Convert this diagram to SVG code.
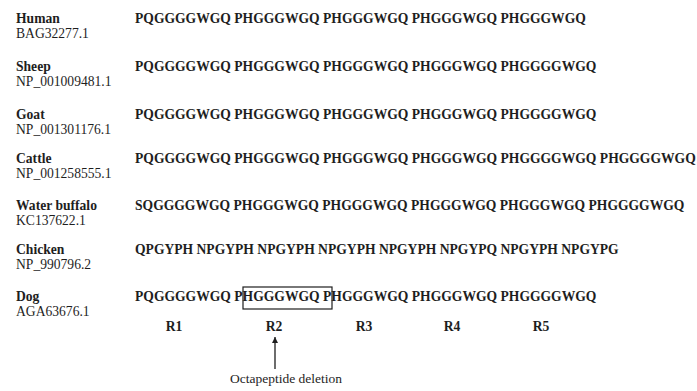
<svg xmlns="http://www.w3.org/2000/svg" width="697" height="391" viewBox="0 0 697 391">
  <style>
    text { font-family: "Liberation Serif", "Times New Roman", serif; fill: #1e1e1e; font-size: 13.6px; }
    .sp { font-weight: bold; }
    .seq { font-weight: bold; }
    .acc { font-weight: normal; }
    .rep { font-weight: bold; text-anchor: middle; }
    .note { font-size: 13.5px; }
  </style>
  <defs>
    <marker id="head" viewBox="0 0 10 10" refX="10" refY="5" markerWidth="6" markerHeight="6" orient="auto" markerUnits="userSpaceOnUse">
      <path d="M0,0 L10,5 L0,10 z" fill="#1e1e1e"/>
    </marker>
  </defs>
  <rect width="697" height="391" fill="#ffffff"/>

  <g id="human">
    <text class="sp" x="16" y="23">Human</text>
    <text class="acc" x="16" y="38">BAG32277.1</text>
    <text class="seq" x="135" y="23">PQGGGGWGQ PHGGGWGQ PHGGGWGQ PHGGGWGQ PHGGGWGQ</text>
  </g>
  <g id="sheep">
    <text class="sp" x="16" y="71">Sheep</text>
    <text class="acc" x="16" y="86">NP_001009481.1</text>
    <text class="seq" x="135" y="71">PQGGGGWGQ PHGGGWGQ PHGGGWGQ PHGGGWGQ PHGGGGWGQ</text>
  </g>
  <g id="goat">
    <text class="sp" x="16" y="119">Goat</text>
    <text class="acc" x="16" y="134">NP_001301176.1</text>
    <text class="seq" x="135" y="119">PQGGGGWGQ PHGGGWGQ PHGGGWGQ PHGGGWGQ PHGGGGWGQ</text>
  </g>
  <g id="cattle">
    <text class="sp" x="16" y="163">Cattle</text>
    <text class="acc" x="16" y="178">NP_001258555.1</text>
    <text class="seq" x="135" y="163">PQGGGGWGQ PHGGGWGQ PHGGGWGQ PHGGGWGQ PHGGGGWGQ PHGGGGWGQ</text>
  </g>
  <g id="water-buffalo">
    <text class="sp" x="16" y="210">Water buffalo</text>
    <text class="acc" x="16" y="225">KC137622.1</text>
    <text class="seq" x="135" y="210">SQGGGGWGQ PHGGGWGQ PHGGGWGQ PHGGGWGQ PHGGGWGQ PHGGGGWGQ</text>
  </g>
  <g id="chicken">
    <text class="sp" x="16" y="254">Chicken</text>
    <text class="acc" x="16" y="269">NP_990796.2</text>
    <text class="seq" x="135" y="254">QPGYPH NPGYPH NPGYPH NPGYPH NPGYPH NPGYPQ NPGYPH NPGYPG</text>
  </g>
  <g id="dog">
    <text class="sp" x="16" y="301">Dog</text>
    <text class="acc" x="16" y="316">AGA63676.1</text>
    <text class="seq" x="135" y="301">PQGGGGWGQ PHGGGWGQ PHGGGWGQ PHGGGWGQ PHGGGGWGQ</text>
    <rect x="243" y="287" width="89" height="22" fill="none" stroke="#1e1e1e" stroke-width="1.2"/>
  </g>
  <g id="repeats">
    <text class="rep" x="174" y="331">R1</text>
    <text class="rep" x="274" y="331">R2</text>
    <text class="rep" x="364" y="331">R3</text>
    <text class="rep" x="452" y="331">R4</text>
    <text class="rep" x="541" y="331">R5</text>
  </g>
  <g id="connectors">
    <line x1="275" y1="369" x2="275" y2="337" stroke="#1e1e1e" stroke-width="1.3" marker-end="url(#head)"/>
  </g>
  <g id="deletion-note">
    <text class="note" x="230" y="383">Octapeptide deletion</text>
  </g>
</svg>
